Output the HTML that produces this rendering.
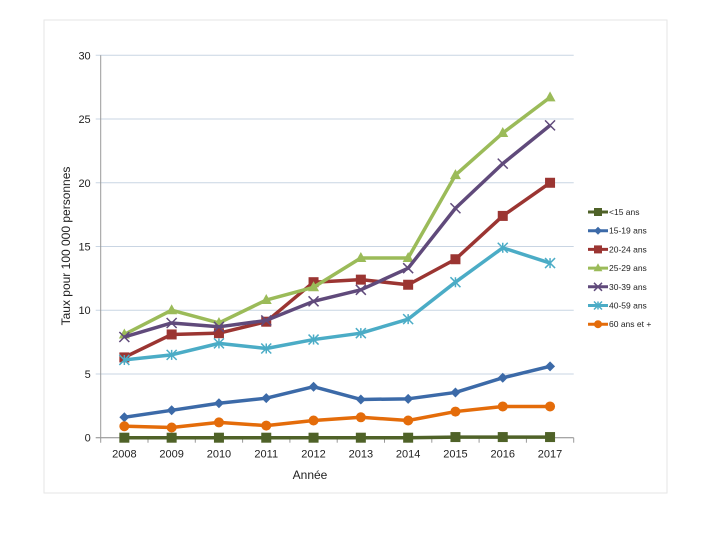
<!DOCTYPE html>
<html><head><meta charset="utf-8"><style>
body{margin:0;background:#fff;width:717px;height:533px;overflow:hidden}
svg text{font-family:"Liberation Sans",sans-serif;fill:#222}
</style></head><body>
<svg width="717" height="533">
<rect x="44" y="20" width="623" height="473" fill="#fff" stroke="#e6e6e6"/>
<g id="grid"></g><g id="series"></g><g id="legend"></g>
<text x="310" y="479" font-size="12" text-anchor="middle">Année</text>
<text transform="translate(70,246) rotate(-90)" font-size="12" text-anchor="middle">Taux pour 100 000 personnes</text>
</svg>
<script>
const years=["2008","2009","2010","2011","2012","2013","2014","2015","2016","2017"];
const yTicks=[0,5,10,15,20,25,30];
const s15=[0,0,0,0,0,0,0,0.05,0.05,0.05];
const s1519=[1.6,2.15,2.7,3.1,4.0,3.0,3.05,3.55,4.7,5.6];
const s2024=[6.3,8.1,8.2,9.1,12.2,12.4,12.0,14.0,17.4,20.0];
const s2529=[8.1,10.0,9.0,10.8,11.8,14.1,14.1,20.6,23.9,26.7];
const s3039=[7.9,9.0,8.7,9.2,10.7,11.6,13.3,18.0,21.5,24.5];
const s4059=[6.1,6.5,7.4,7.0,7.7,8.2,9.3,12.2,14.9,13.7];
const s60=[0.9,0.8,1.2,0.95,1.35,1.6,1.35,2.05,2.45,2.45];
const names=["<15 ans","15-19 ans","20-24 ans","25-29 ans","30-39 ans","40-59 ans","60 ans et +"];
const all=[s15,s1519,s2024,s2529,s3039,s4059,s60];
const colors=["#4f6228","#3c6aa8","#9b3532","#9bbb59","#604a7b","#4bacc6","#e46c0a"];
const markers=["square","diamond","square","triangle","x","star","circle"];
const X0=100.7,STEP=47.3,Y0=437.7,Y30=55.3;
const x=i=>X0+STEP*(i+0.5);
const y=v=>Y0-(Y0-Y30)*v/30;
const NS="http://www.w3.org/2000/svg";
function mk(t,a,p){const e=document.createElementNS(NS,t);for(const k in a)e.setAttribute(k,a[k]);p.appendChild(e);return e;}
const grid=document.getElementById('grid');
yTicks.forEach(v=>{
 const l=mk('line',{x1:X0-5,x2:X0+STEP*10,y1:y(v),y2:y(v),stroke:v?'#c9d5e3':'#888','stroke-width':1},grid);
 
 
 const t=mk('text',{x:X0-10,y:y(v)+4,'font-size':11,'text-anchor':'end'},grid);t.textContent=v;
 
 
});
mk('line',{x1:X0,x2:X0,y1:Y30,y2:Y0+5,stroke:'#999'},grid);
years.forEach((yr,i)=>{
 mk('line',{x1:X0+STEP*(i+1),x2:X0+STEP*(i+1),y1:Y0,y2:Y0+5,stroke:'#999'},grid);
 const t=mk('text',{x:x(i),y:Y0+20,'font-size':11,'text-anchor':'middle'},grid);t.textContent=yr;
 
 
});
function marker(type,cx,cy,c,p,sc){
 const r=5*sc;
 if(type==='square')return mk('rect',{x:cx-r,y:cy-r,width:2*r,height:2*r,fill:c},p);
 if(type==='diamond')return mk('polygon',{points:`${cx},${cy-r} ${cx+r},${cy} ${cx},${cy+r} ${cx-r},${cy}`,fill:c},p);
 if(type==='triangle')return mk('polygon',{points:`${cx},${cy-r*1.2} ${cx+r*1.1},${cy+r*0.8} ${cx-r*1.1},${cy+r*0.8}`,fill:c},p);
 if(type==='circle')return mk('circle',{cx:cx,cy:cy,r:r,fill:c},p);
 if(type==='x')return mk('path',{d:`M${cx-r},${cy-r}L${cx+r},${cy+r}M${cx-r},${cy+r}L${cx+r},${cy-r}`,stroke:c,'stroke-width':1.5,fill:'none'},p);
 return mk('path',{d:`M${cx-r},${cy-r}L${cx+r},${cy+r}M${cx-r},${cy+r}L${cx+r},${cy-r}M${cx},${cy-r}L${cx},${cy+r}`,stroke:c,'stroke-width':1.5,fill:'none'},p);
}
const sg=document.getElementById('series');
all.forEach((d,k)=>{
 const g=mk('g',{},sg);
 
 
 const pl=mk('polyline',{points:d.map((v,i)=>x(i)+','+y(v)).join(' '),fill:'none',stroke:colors[k],'stroke-width':3.5,'stroke-linejoin':'round'},g);
 d.forEach((v,i)=>{const m=marker(markers[k],x(i),y(v),colors[k],g,1);
  
  });
});
const lg=document.getElementById('legend');
names.forEach((n,k)=>{
 const ly=212+k*18.7;
 const g=mk('g',{},lg);
 
 
 mk('line',{x1:588,x2:608,y1:ly,y2:ly,stroke:colors[k],'stroke-width':3},g);
 marker(markers[k],598,ly,colors[k],g,0.8);
 const t=mk('text',{x:609,y:ly+3,'font-size':8.5},g);t.textContent=n;
});
</script>
</body></html>
